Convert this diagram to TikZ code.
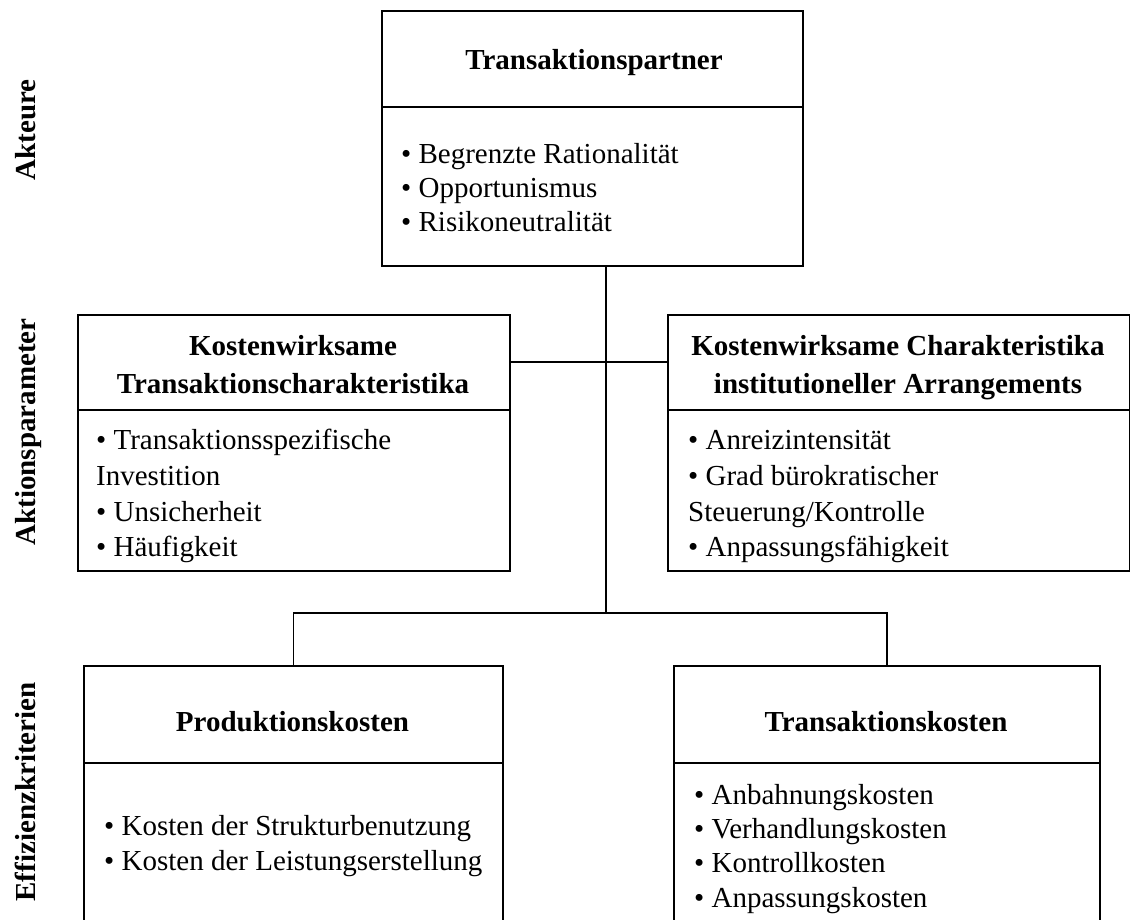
\documentclass[tikz,border=0pt]{standalone}
\usepackage{fontspec}
\setmainfont{Liberation Serif}
\begin{document}
\begin{tikzpicture}[x=1pt,y=-1pt,
  frame/.style={draw=black,line width=1.7pt,inner sep=0pt,anchor=north west},
  link/.style={draw=black,line width=1.7pt},
  head/.style={font=\fontsize{29}{34}\selectfont\bfseries,anchor=base,inner sep=0pt},
  item/.style={font=\fontsize{29}{34}\selectfont,anchor=base west,inner sep=0pt},
  side/.style={font=\fontsize{29}{34}\selectfont\bfseries,rotate=90,anchor=base,inner sep=0pt}]
\useasboundingbox (0,0) rectangle (1130,919);
\clip (0,0) rectangle (1130,919);

% boxes
\node[frame,minimum width=421pt,minimum height=255pt] (tp) at (381,10) {};
\node[frame,minimum width=432pt,minimum height=256pt] (tc) at (77,314) {};
\node[frame,minimum width=462pt,minimum height=256pt] (ia) at (667,314) {};
\node[frame,minimum width=419pt,minimum height=300pt] (pk) at (83,665) {};
\node[frame,minimum width=426pt,minimum height=300pt] (tk) at (673,665) {};

% header dividers
\draw[link] ([yshift=-97pt]tp.north west) -- ([yshift=-97pt]tp.north east);
\draw[link] ([yshift=-96pt]tc.north west) -- ([yshift=-96pt]tc.north east);
\draw[link] ([yshift=-96pt]ia.north west) -- ([yshift=-96pt]ia.north east);
\draw[link] ([yshift=-98pt]pk.north west) -- ([yshift=-98pt]pk.north east);
\draw[link] ([yshift=-98pt]tk.north west) -- ([yshift=-98pt]tk.north east);

% connectors
\coordinate (tpj) at ([xshift=225pt]tp.south west);
\coordinate (fork) at (tpj |- 0,613);
\coordinate (tcj) at ([yshift=-48pt]tc.north east);
\coordinate (iaj) at ([yshift=-48pt]ia.north west);
\draw[link] (tpj) -- (fork);
\draw[link] (tcj) -- (iaj);
\draw[link] (pk.north) |- (fork) -| (tk.north);

% side labels
\node[side] (l1) at (35,130) {Akteure};
\node[side] (l2) at (35,432) {Aktionsparameter};
\node[side] (l3) at (35,792) {Effizienzkriterien};

% Transaktionspartner
\node[head] (tph) at (594,69) {Transaktionspartner};
\node[item] (tp1) at (401,163) {\textbullet\ Begrenzte Rationalität};
\node[item] (tp2) at (401,197) {\textbullet\ Opportunismus};
\node[item] (tp3) at (401,231) {\textbullet\ Risikoneutralität};

% Transaktionscharakteristika
\node[head] (tch1) at (293,355) {Kostenwirksame};
\node[head] (tch2) at (293,393) {Transaktionscharakteristika};
\node[item] (tc1) at (96,449) {\textbullet\ Transaktionsspezifische};
\node[item] (tc2) at (96,485) {Investition};
\node[item] (tc3) at (96,521) {\textbullet\ Unsicherheit};
\node[item] (tc4) at (96,556) {\textbullet\ Häufigkeit};

% institutionelle Arrangements
\node[head] (iah1) at (898,355) {Kostenwirksame Charakteristika};
\node[head] (iah2) at (898,393) {institutioneller Arrangements};
\node[item] (ia1) at (688,449) {\textbullet\ Anreizintensität};
\node[item] (ia2) at (688,485) {\textbullet\ Grad bürokratischer};
\node[item] (ia3) at (688,521) {Steuerung/Kontrolle};
\node[item] (ia4) at (688,556) {\textbullet\ Anpassungsfähigkeit};

% Produktionskosten
\node[head] (pkh) at (292.5,731) {Produktionskosten};
\node[item] (pk1) at (104,835) {\textbullet\ Kosten der Strukturbenutzung};
\node[item] (pk2) at (104,870) {\textbullet\ Kosten der Leistungserstellung};

% Transaktionskosten
\node[head] (tkh) at (886,731) {Transaktionskosten};
\node[item] (tk1) at (694,804) {\textbullet\ Anbahnungskosten};
\node[item] (tk2) at (694,838) {\textbullet\ Verhandlungskosten};
\node[item] (tk3) at (694,872) {\textbullet\ Kontrollkosten};
\node[item] (tk4) at (694,907) {\textbullet\ Anpassungskosten};
\end{tikzpicture}
\end{document}
